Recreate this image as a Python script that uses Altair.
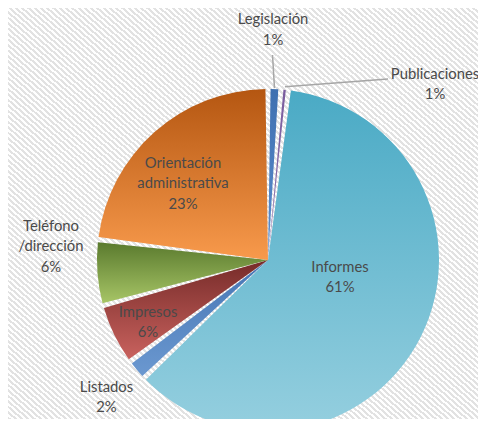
import altair as alt
import pandas as pd

# ---- data ----
categories = ["Legislación", "Publicaciones", "Informes", "Listados",
              "Impresos", "Teléfono /dirección", "Orientación administrativa"]
values = [1.2, 0.7, 61.0, 2.0, 5.8, 6.2, 23.1]

# ---- styling / layout (not data) ----
grad_top = ["#3f70b0", "#7a5c9e", "#4aaac5", "#4676b4", "#762b29", "#5a7a2e", "#b45611"]
grad_bot = ["#5c8fd0", "#9078b4", "#95cfdf", "#6b98d0", "#c9625e", "#a7c566", "#f89a4c"]
label_r = [229.6, 241.9, 74.2, 212.4, 135.5, 217.4, 114.0]
label_shift = [-0.25, 10.58, -3.51, -0.15, -0.49, 2.14, -1.84]
leader_in_r = [172, 174, 0, 0, 0, 0, 0]
leader_out_r = [205, 217.2, 0, 0, 0, 0, 0]
leader_out_shift = [-0.25, 7.77, 0, 0, 0, 0, 0]

W, H = 420, 318
PAD_L, PAD_T = 50, 93
R = 171
LH = 20.5
TEXT = "#4a4a4a"

df = pd.DataFrame({
    "cat": categories, "value": values, "order": list(range(len(categories))),
    "lr": label_r, "shift": label_shift,
    "lin": leader_in_r, "lout": leader_out_r, "lshift": leader_out_shift,
})

theta_scale = alt.Scale(domain=[0, 100], range=[0, 6.283185307179586])

base = alt.Chart(df).transform_window(
    cum="sum(value)", sort=[alt.SortField("order")], frame=[None, 0]
).transform_calculate(
    start="datum.cum - datum.value",
    end="datum.cum",
    mid="datum.cum - datum.value / 2",
)

# striped background
N = 150
stops = []
for k in range(N):
    a = k / N
    b = (k + 0.5) / N
    c = (k + 1) / N
    stops += [alt.GradientStop(color="#e2e2e2", offset=a),
              alt.GradientStop(color="#e2e2e2", offset=b),
              alt.GradientStop(color="#ffffff", offset=b),
              alt.GradientStop(color="#ffffff", offset=c)]
stripes = alt.LinearGradient(gradient="linear", stops=stops, x1=0, y1=1, x2=1, y2=0)
bg = alt.Chart(pd.DataFrame({"a": [0]})).mark_rect(fill=stripes).encode(
    x=alt.value(-PAD_L), x2=alt.value(W), y=alt.value(-PAD_T), y2=alt.value(H)
)

layers = [bg]
for i, c in enumerate(categories):
    g = alt.LinearGradient(
        gradient="linear",
        stops=[alt.GradientStop(color=grad_top[i], offset=0),
               alt.GradientStop(color=grad_bot[i], offset=1)],
        x1=0, y1=0, x2=0, y2=1,
    )
    layers.append(
        base.transform_filter(alt.datum.cat == c)
        .mark_arc(radius=R, padAngle=0.03, fill=g)
        .encode(
            theta=alt.Theta("start:Q", scale=theta_scale, stack=False),
            theta2="end:Q",
        )
    )

# leader lines
rules = base.transform_filter("datum.lin > 0").transform_calculate(
    a1="datum.mid * 2 * PI / 100",
    a2="(datum.mid + datum.lshift) * 2 * PI / 100",
).transform_calculate(
    px1=f"{W/2} + datum.lin * sin(datum.a1)",
    py1=f"{H/2} - datum.lin * cos(datum.a1)",
    px2=f"{W/2} + datum.lout * sin(datum.a2)",
    py2=f"{H/2} - datum.lout * cos(datum.a2)",
).mark_rule(color="#a6a6a6", strokeWidth=1.5).encode(
    x=alt.X("px1:Q", scale=None), y=alt.Y("py1:Q", scale=None),
    x2="px2:Q", y2="py2:Q",
)
layers.append(rules)

labels = base.transform_calculate(
    lt="(datum.mid + datum.shift) * 2 * PI / 100",
    label="replace(datum.cat, ' ', '\\n') + '\\n' + round(datum.value) + '%'",
).transform_calculate(
    nl="length(split(datum.label, '\\n'))",
).transform_calculate(
    tx=f"{W/2} + datum.lr * sin(datum.lt)",
    ty=f"{H/2} - datum.lr * cos(datum.lt) - (datum.nl - 1) * {LH} / 2",
).mark_text(
    font="Lato", fontSize=14.8, color=TEXT, lineBreak="\n", lineHeight=LH,
    align="center", baseline="middle",
).encode(
    x=alt.X("tx:Q", scale=None),
    y=alt.Y("ty:Q", scale=None),
    text="label:N",
)
layers.append(labels)

chart = alt.layer(*layers).properties(
    width=W, height=H,
    autosize=alt.AutoSizeParams(type="none"),
    padding={"left": PAD_L, "top": PAD_T, "right": 0, "bottom": 0},
    background="white",
).configure_view(stroke=None)

chart.save("out.html", embed_options={"renderer": "svg", "actions": False})
